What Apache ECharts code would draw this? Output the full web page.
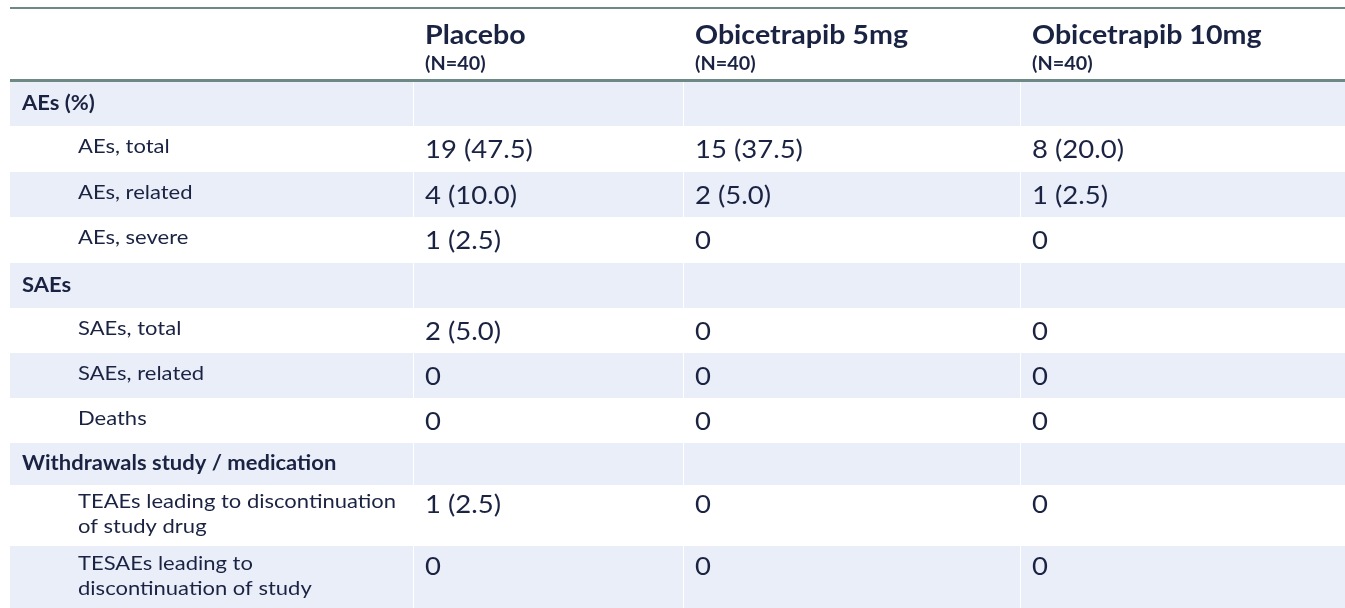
<!DOCTYPE html>
<html>
<head>
<meta charset="utf-8">
<script src="https://cdn.jsdelivr.net/npm/echarts@6/dist/echarts.min.js"></script>
<style>
  html, body { margin: 0; padding: 0; background: #fff; }
  #main { width: 1345px; height: 608px; }
</style>
</head>
<body>
<div id="main"></div>
<script>
// 列标题
var groups = ['Placebo', 'Obicetrapib 5mg', 'Obicetrapib 10mg'];
var groupN = ['(N=40)', '(N=40)', '(N=40)'];

// 行标题
var rowLabels = [
  'AEs (%)', 'AEs, total', 'AEs, related', 'AEs, severe',
  'SAEs', 'SAEs, total', 'SAEs, related', 'Deaths',
  'Withdrawals study / medication',
  'TEAEs leading to discontinuation\nof study drug',
  'TESAEs leading to\ndiscontinuation of study'
];
var rowIsSection = [1, 0, 0, 0, 1, 0, 0, 0, 1, 0, 0];

// 各组数值 n (%)
var placebo = ['', '19 (47.5)', '4 (10.0)', '1 (2.5)', '', '2 (5.0)', '0', '0', '', '1 (2.5)', '0'];
var obi5    = ['', '15 (37.5)', '2 (5.0)', '0', '', '0', '0', '0', '', '0', '0'];
var obi10   = ['', '8 (20.0)', '1 (2.5)', '0', '', '0', '0', '0', '', '0', '0'];

// 版式 (像素)
var headerH = 73;
var rowH = [45, 46, 45, 46, 45, 45, 45, 45, 42, 61, 62];
var colEdges = [0, 403, 673, 1010, 1335];

var TXT = '#1b2343';
var BAND = '#eaeef8';
var RULE = '#6e8886';
var FONT = 'Lato, "Open Sans", sans-serif';
var SX = 1.1; // 原图字体略宽

var values = [placebo, obi5, obi10];
var rowTop = [];
var acc = headerH;
for (var i = 0; i < rowH.length; i++) { rowTop.push(acc); acc += rowH[i]; }

function txt(s, x, y, font, lh) {
  return {
    type: 'text', x: x, y: y, scaleX: SX,
    style: { text: s, x: 0, y: 0, fill: TXT, font: font, lineHeight: lh || null, verticalAlign: 'middle' }
  };
}

function renderHeader(params, api) {
  var c = api.value(0);
  var children = [];
  var x = api.coord([colEdges[c + 1] + 12, 0])[0];
  children.push(txt(groups[c], x, api.coord([0, 28])[1], 'bold 26px ' + FONT));
  children.push(txt(groupN[c], x, api.coord([0, 56])[1], 'bold 18px ' + FONT));
  if (c === 0) {
    var a = api.coord([colEdges[0], 0]);
    var b = api.coord([colEdges[4], headerH]);
    children.push({ type: 'rect', shape: { x: a[0], y: a[1] - 1, width: b[0] - a[0], height: 2 }, style: { fill: RULE } });
    children.push({ type: 'rect', shape: { x: a[0], y: b[1] - 2, width: b[0] - a[0], height: 3 }, style: { fill: RULE } });
  }
  return { type: 'group', children: children };
}

function renderRow(params, api) {
  var i = api.value(0);
  var top = rowTop[i], h = rowH[i];
  var children = [];
  if (i % 2 === 0) {
    for (var c = 0; c < 4; c++) {
      var p0 = api.coord([colEdges[c], top]);
      var p1 = api.coord([colEdges[c + 1], top + h]);
      var gap = c ? 1 : 0;
      children.push({
        type: 'rect',
        shape: { x: p0[0] + gap, y: p0[1], width: p1[0] - p0[0] - gap, height: p1[1] - p0[1] },
        style: { fill: BAND }
      });
    }
  }
  var lines = rowLabels[i].split('\n').length;
  var lh = 25;
  var center = api.coord([0, top + h / 2])[1];
  var sec = rowIsSection[i];
  var mid = center - (sec ? 0 : (lines > 1 ? 1 : 2));
  children.push(txt(rowLabels[i], api.coord([colEdges[0] + (sec ? 12 : 68), 0])[0], mid,
    (sec ? 'bold ' : '') + '20px ' + FONT, lh));
  var firstLine = lines > 1 ? mid - (lines - 1) * lh / 2 + 3 : center + 1;
  for (var g = 0; g < values.length; g++) {
    if (!values[g][i]) continue;
    children.push(txt(values[g][i], api.coord([colEdges[g + 1] + 12, 0])[0], firstLine, '25px ' + FONT));
  }
  return { type: 'group', children: children };
}

var chart = echarts.init(document.getElementById('main'));
chart.setOption({
  animation: false,
  grid: { left: 10, right: 0, top: 8, bottom: 0 },
  xAxis: { type: 'value', min: 0, max: 1335, show: false },
  yAxis: { type: 'value', min: 0, max: 600, inverse: true, show: false },
  series: [
    {
      type: 'custom',
      renderItem: renderRow,
      data: rowLabels.map(function (l, i) { return [i]; }),
      silent: true
    },
    {
      type: 'custom',
      renderItem: renderHeader,
      data: groups.map(function (g, i) { return [i]; }),
      silent: true
    }
  ]
});
</script>
</body>
</html>
